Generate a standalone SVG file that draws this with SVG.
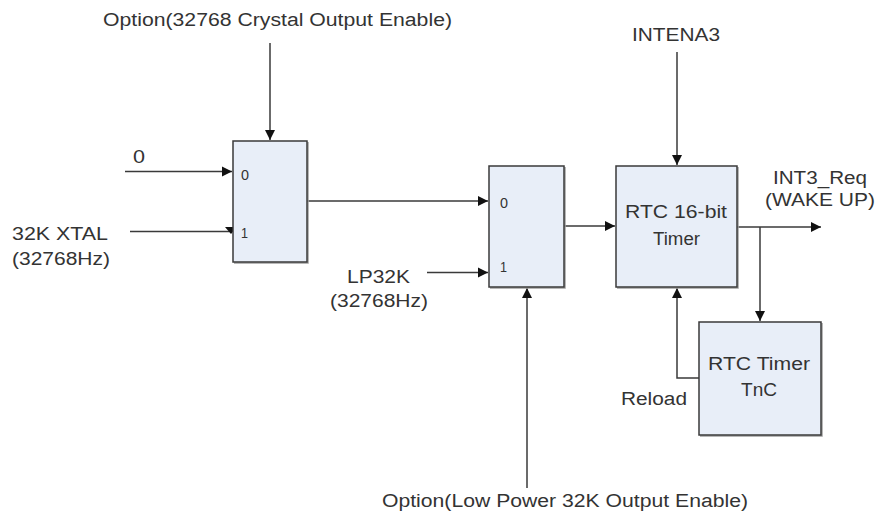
<svg xmlns="http://www.w3.org/2000/svg" width="877" height="515" viewBox="0 0 877 515">
<style>
.t{font-family:"Liberation Sans",Arial,sans-serif;font-size:18px;fill:#333}
.s{font-family:"Liberation Sans",Arial,sans-serif;font-size:14px;fill:#333}
.box{fill:#e8eef8;stroke:#3a3a3a;stroke-width:1.5}
.sh{fill:none;stroke:#a0a0a0;stroke-width:1.5}
.ln{fill:none;stroke:#3a3a3a;stroke-width:1.5}
</style>
<defs>
<marker id="a" markerUnits="userSpaceOnUse" markerWidth="12" markerHeight="12" viewBox="0 0 12 12" refX="11" refY="6" orient="auto">
<path d="M1,1 L11,6 L1,11 Z" fill="#111"/>
</marker>
</defs>
<rect width="877" height="515" fill="#fff"/>
<g id="connectors">
<path class="ln" d="M270,43 V140" marker-end="url(#a)"/>
<path class="ln" d="M125,171.5 H232" marker-end="url(#a)"/>
<path class="ln" d="M130,231.5 H231"/>
<path d="M225,227 L237,227 L231,234 Z" fill="#111"/>
<path class="ln" d="M307,201 H488" marker-end="url(#a)"/>
<path class="ln" d="M427,272.5 H488" marker-end="url(#a)"/>
<path class="ln" d="M527,488 V288" marker-end="url(#a)"/>
<path class="ln" d="M564,226 H615" marker-end="url(#a)"/>
<path class="ln" d="M677,52 V165" marker-end="url(#a)"/>
<path class="ln" d="M737,227 H821" marker-end="url(#a)"/>
<path class="ln" d="M760,227 V321" marker-end="url(#a)"/>
<path class="ln" d="M699,378 H677 V288" marker-end="url(#a)"/>
</g>
<g id="mux1">
<path class="sh" d="M234,263 H308 V142"/>
<rect class="box" x="233" y="141" width="74" height="121"/>
<text class="s" x="241" y="180" textLength="8" lengthAdjust="spacingAndGlyphs">0</text>
<text class="s" x="241" y="238" textLength="7" lengthAdjust="spacingAndGlyphs">1</text>
</g>
<g id="mux2">
<path class="sh" d="M490,288 H565 V167"/>
<rect class="box" x="489" y="166" width="75" height="121"/>
<text class="s" x="500" y="208" textLength="8" lengthAdjust="spacingAndGlyphs">0</text>
<text class="s" x="500" y="272" textLength="7" lengthAdjust="spacingAndGlyphs">1</text>
</g>
<g id="rtc_timer">
<path class="sh" d="M617,288 H738 V167"/>
<rect class="box" x="616" y="166" width="121" height="121"/>
<text class="t" x="625" y="218" textLength="102" lengthAdjust="spacingAndGlyphs">RTC 16-bit</text>
<text class="t" x="653" y="245" textLength="47" lengthAdjust="spacingAndGlyphs">Timer</text>
</g>
<g id="rtc_tnc">
<path class="sh" d="M700,436 H822 V323"/>
<rect class="box" x="699" y="322" width="122" height="113"/>
<text class="t" x="708" y="370" textLength="102" lengthAdjust="spacingAndGlyphs">RTC Timer</text>
<text class="t" x="741" y="396" textLength="36" lengthAdjust="spacingAndGlyphs">TnC</text>
</g>
<g id="labels">
<text class="t" x="103" y="26" textLength="349" lengthAdjust="spacingAndGlyphs">Option(32768 Crystal Output Enable)</text>
<text class="t" x="133" y="163" textLength="12" lengthAdjust="spacingAndGlyphs">0</text>
<text class="t" x="12" y="240" textLength="96" lengthAdjust="spacingAndGlyphs">32K XTAL</text>
<text class="t" x="12" y="265" textLength="98" lengthAdjust="spacingAndGlyphs">(32768Hz)</text>
<text class="t" x="347" y="283" textLength="63" lengthAdjust="spacingAndGlyphs">LP32K</text>
<text class="t" x="330" y="307" textLength="98" lengthAdjust="spacingAndGlyphs">(32768Hz)</text>
<text class="t" x="632" y="41" textLength="88" lengthAdjust="spacingAndGlyphs">INTENA3</text>
<text class="t" x="773" y="184" textLength="94" lengthAdjust="spacingAndGlyphs">INT3_Req</text>
<text class="t" x="765" y="206" textLength="110" lengthAdjust="spacingAndGlyphs">(WAKE UP)</text>
<text class="t" x="621" y="405" textLength="66" lengthAdjust="spacingAndGlyphs">Reload</text>
<text class="t" x="382" y="507" textLength="366" lengthAdjust="spacingAndGlyphs">Option(Low Power 32K Output Enable)</text>
</g>
</svg>
